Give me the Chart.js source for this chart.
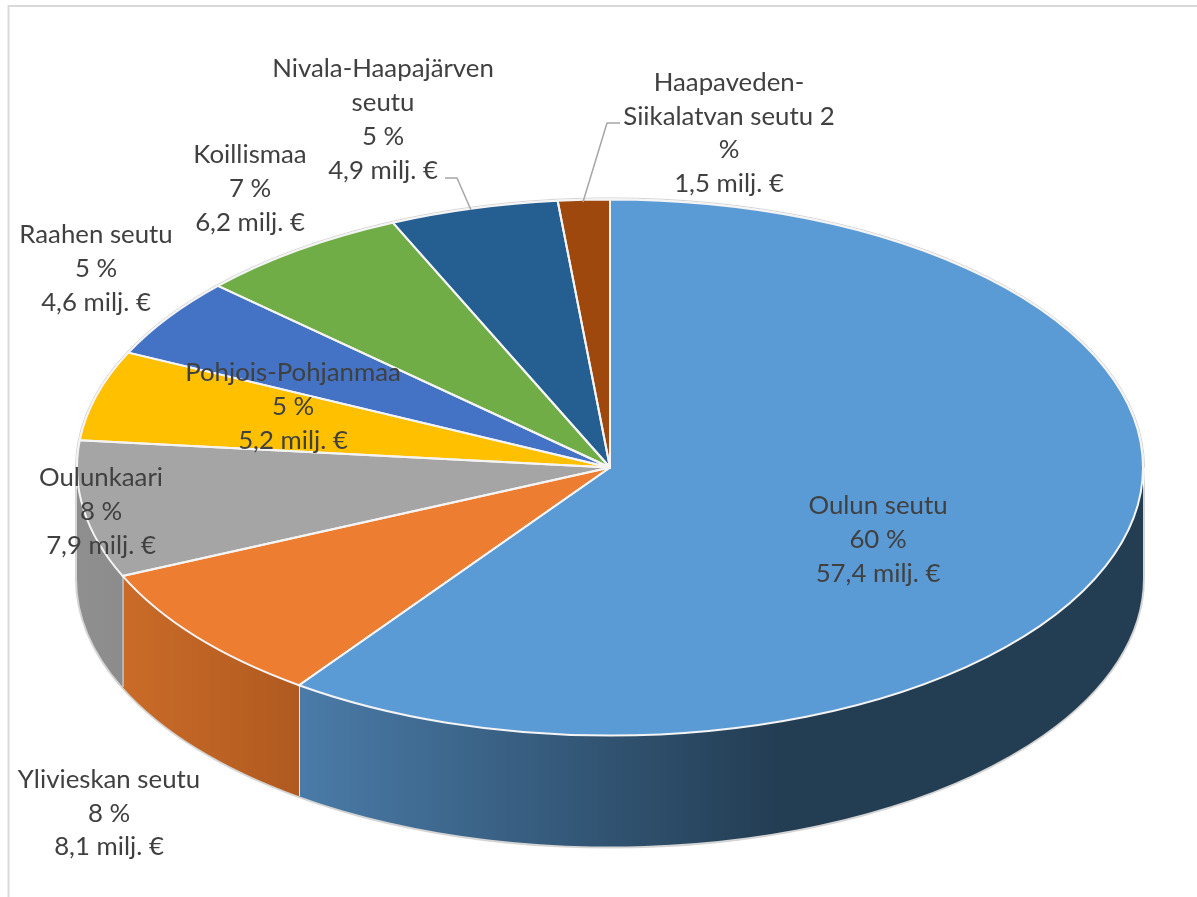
<!DOCTYPE html>
<html>
<head>
<meta charset="utf-8">
<title>Pohjois-Pohjanmaa</title>
<script src="https://cdn.jsdelivr.net/npm/chart.js@4"></script>
<style>
    html, body { margin: 0; padding: 0; background: #fff; }
    canvas { display: block; }
</style>
</head>
<body>
<canvas id="pie" width="1197" height="897"></canvas>
<script>
// data
const regions = ['Oulun seutu', 'Ylivieskan seutu', 'Oulunkaari', 'Pohjois-Pohjanmaa', 'Raahen seutu', 'Koillismaa', 'Nivala-Haapajärven seutu', 'Haapaveden-Siikalatvan seutu'];
const millions = [57.4, 8.1, 7.9, 5.2, 4.6, 6.2, 4.9, 1.5];
const percents = [60, 8, 8, 5, 5, 7, 5, 2];

const colors = ['#5b9bd5', '#ed7d31', '#a5a5a5', '#ffc000', '#4472c4', '#70ad47', '#255e91', '#9e480e'];
// side wall gradient, left to right
const wallColors = [['#4a7ba8', '#233d53'], ['#ca6b28', '#b05a20'], ['#8f8f8f', '#8c8c8c']];

const tilt = 0.503;
const depth = 111;

// where the text of each slice goes: centre x, middle of first line, line step
const labelPlace = [[878, 506, 34], [109, 780, 33.5], [101, 478, 34], [293, 373, 34], [96, 235, 34], [250, 155, 34], [383, 69, 34], [729, 83, 33.5]];
const leaders = [
    null, null, null, null, null, null,
    [[445, 178], [457, 178], [471, 210]],
    [[620, 123], [607, 123], [583, 202]]
];

function euro(v) {
    return v.toFixed(1).replace('.', ',') + ' milj. €';
}

function labelLines(i) {
    if (i === 6) return ['Nivala-Haapajärven', 'seutu', percents[i] + ' %', euro(millions[i])];
    if (i === 7) return ['Haapaveden-', 'Siikalatvan seutu ' + percents[i], '%', euro(millions[i])];
    return [regions[i], percents[i] + ' %', euro(millions[i])];
}

const pie3d = {
    id: 'pie3d',
    beforeDatasetsDraw(chart) {
        const ctx = chart.ctx;
        const arcs = chart.getDatasetMeta(0).data;
        const cx = arcs[0].x, cy = arcs[0].y, r = arcs[0].outerRadius;

        // light rim under the whole side
        ctx.save();
        ctx.beginPath();
        ctx.ellipse(cx, cy, r + 2, r * tilt + 2, 0, 0, Math.PI);
        ctx.ellipse(cx, cy + depth, r + 2, r * tilt + 2, 0, Math.PI, 0, true);
        ctx.closePath();
        ctx.fillStyle = '#d4d4d4';
        ctx.fill();

        arcs.forEach((arc, i) => {
            const a0 = Math.max(arc.startAngle, 0);
            const a1 = Math.min(arc.endAngle, Math.PI);
            if (a1 <= a0) return;
            const x0 = cx + r * Math.cos(a1);
            const x1 = cx + r * Math.cos(a0);
            const g = ctx.createLinearGradient(x0, 0, x1, 0);
            const wc = wallColors[i];
            g.addColorStop(0, wc[0]);
            if (i === 0) g.addColorStop(0.57, wc[1]);
            g.addColorStop(1, wc[1]);
            ctx.beginPath();
            ctx.ellipse(cx, cy, r, r * tilt, 0, a0, a1);
            ctx.ellipse(cx, cy + depth, r, r * tilt, 0, a1, a0, true);
            ctx.closePath();
            ctx.fillStyle = g;
            ctx.fill();
            // seam on the left side of the wall
            if (a1 < Math.PI) {
                const y = cy + r * tilt * Math.sin(a1);
                ctx.beginPath();
                ctx.moveTo(x0, y);
                ctx.lineTo(x0, y + depth);
                ctx.strokeStyle = '#e6e6e6';
                ctx.lineWidth = 2;
                ctx.stroke();
            }
        });
        ctx.restore();

        // squash the round pie to an ellipse
        ctx.save();
        ctx.translate(cx, cy);
        ctx.scale(1, tilt);
        ctx.translate(-cx, -cy);
    },
    afterDatasetsDraw(chart) {
        const ctx = chart.ctx;
        ctx.restore();
        const arcs = chart.getDatasetMeta(0).data;
        const cx = arcs[0].x, cy = arcs[0].y, r = arcs[0].outerRadius;

        // grey rim on the far half of the top
        ctx.beginPath();
        ctx.ellipse(cx, cy, r + 1.5, r * tilt + 1.5, 0, Math.PI, 2 * Math.PI);
        ctx.strokeStyle = '#d4d4d4';
        ctx.lineWidth = 1;
        ctx.stroke();

        // white slice borders, stroked here so they keep one width after the squash
        ctx.strokeStyle = '#f4f4f4';
        ctx.lineWidth = 2;
        ctx.lineJoin = 'round';
        arcs.forEach(arc => {
            ctx.beginPath();
            ctx.moveTo(cx, cy);
            ctx.ellipse(cx, cy, r, r * tilt, 0, arc.startAngle, arc.endAngle);
            ctx.closePath();
            ctx.stroke();
        });
    },
    afterDraw(chart) {
        const ctx = chart.ctx;
        ctx.save();

        // frame
        ctx.strokeStyle = '#d9d9d9';
        ctx.lineWidth = 2;
        ctx.beginPath();
        ctx.moveTo(8.5, 897);
        ctx.lineTo(8.5, 6);
        ctx.lineTo(1197, 6);
        ctx.stroke();

        // leader lines
        ctx.strokeStyle = '#a6a6a6';
        ctx.lineWidth = 1.5;
        leaders.forEach(pts => {
            if (!pts) return;
            ctx.beginPath();
            pts.forEach((p, k) => k ? ctx.lineTo(p[0], p[1]) : ctx.moveTo(p[0], p[1]));
            ctx.stroke();
        });

        ctx.font = '25.8px Lato';
        ctx.fillStyle = '#404040';
        ctx.textAlign = 'center';
        ctx.textBaseline = 'middle';
        regions.forEach((name, i) => {
            const place = labelPlace[i];
            labelLines(i).forEach((line, k) => {
                ctx.fillText(line, place[0], place[1] + k * place[2]);
            });
        });
        ctx.restore();
    }
};

new Chart(document.getElementById('pie'), {
    type: 'pie',
    data: {
        labels: regions,
        datasets: [{
            data: millions,
            backgroundColor: colors,
            borderWidth: 0,
            radius: 533,
            clip: false
        }]
    },
    options: {
        responsive: false,
        animation: false,
        layout: { padding: { left: 23, top: 38, right: 0, bottom: 0 } },
        plugins: {
            legend: { display: false },
            tooltip: { enabled: false }
        }
    },
    plugins: [pie3d]
});
</script>
</body>
</html>
